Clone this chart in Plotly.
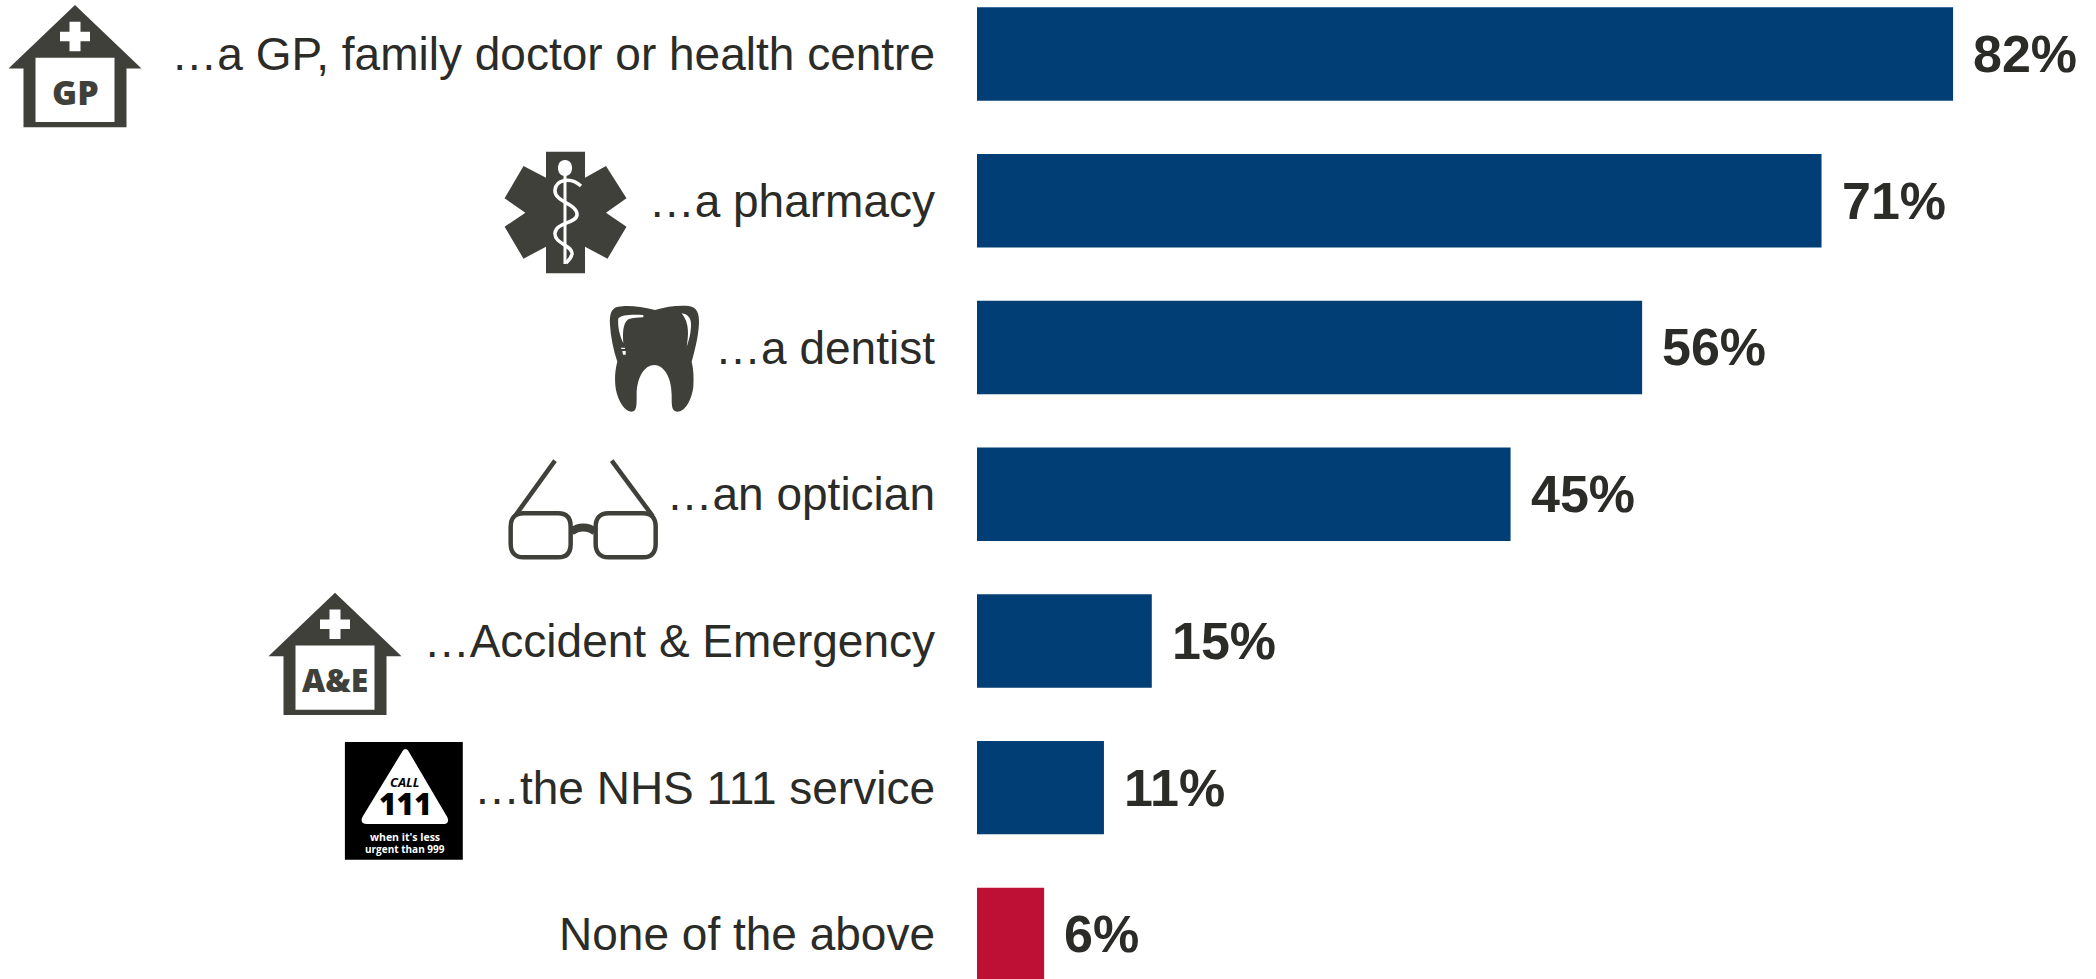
import re
import plotly.graph_objects as go

# Survey responses, top to bottom
categories = [
    "…a GP, family doctor or health centre",
    "…a pharmacy",
    "…a dentist",
    "…an optician",
    "…Accident &amp; Emergency",
    "…the NHS 111 service",
    "None of the above",
]
shares = [82, 71, 56, 45, 15, 11, 6]
bar_colors = ["#003E75"] * 6 + ["#BE0F34"]

WIDTH, HEIGHT = 2096, 979
SANS = "Liberation Sans"
BADGE = "Open Sans"
TEXT = "#2B2B27"
ICON = "#3F403A"
WHITE = "#FFFFFF"


def to_paper(path, ox, oy, sx=1.0, sy=1.0):
    """Place a path drawn in local units onto the page, numbers alternating x and y."""
    is_x = [True]

    def convert(match):
        v = float(match.group())
        if is_x[0]:
            out = (ox + v / sx) / WIDTH
        else:
            out = 1 - (oy + v / sy) / HEIGHT
        is_x[0] = not is_x[0]
        return f"{out:.5f}"

    return re.sub(r"-?\d+\.?\d*", convert, path)


shapes = []
annotations = []


def fill(path, ox, oy, sx=1.0, sy=1.0, color=ICON):
    shapes.append(dict(type="path", xref="paper", yref="paper", layer="above",
                       path=to_paper(path, ox, oy, sx, sy),
                       fillcolor=color, line=dict(width=0)))


def stroke(path, ox, oy, sx=1.0, sy=1.0, color=ICON, width=4.0):
    shapes.append(dict(type="path", xref="paper", yref="paper", layer="above",
                       path=to_paper(path, ox, oy, sx, sy),
                       line=dict(color=color, width=width)))


def label(text, x, y, size, color=ICON, style="normal", family=BADGE, weight=800):
    annotations.append(dict(text=text, xref="paper", yref="paper",
                            x=x / WIDTH, y=1 - y / HEIGHT, showarrow=False,
                            xanchor="center", yanchor="middle",
                            font=dict(family=family, size=size, color=color,
                                      weight=weight, style=style)))


def house(ax, ay, caption, size):
    fill("M 0 0 L 66.5 63.5 L 51.5 63.5 L 51.5 122.3 L -51.5 122.3 L -51.5 63.5 L -66.5 63.5 Z", ax, ay)
    fill("M -39.5 52.7 L 39.5 52.7 L 39.5 117 L -39.5 117 Z", ax, ay, color=WHITE)
    fill("M -5.5 16.7 L 5.5 16.7 L 5.5 26.7 L 15 26.7 L 15 36.3 L 5.5 36.3 L 5.5 46.3 "
         "L -5.5 46.3 L -5.5 36.3 L -15 36.3 L -15 26.7 L -5.5 26.7 Z", ax, ay, color=WHITE)
    label(caption, ax, ay + 87, size)


# Surgery and A&E buildings
house(75, 5, "GP", 34)
house(335, 592.7, "A&amp;E", 32)

# Star of life with rod and serpent
fill("M 546 151.7 L 585 151.7 L 585 177.7 L 606 166 L 626.5 198.3 L 606 212.7 L 626.5 226.7 "
     "L 607.5 258.7 L 585 246.7 L 585 273.3 L 546 273.3 L 546 246.7 L 523.5 258.7 L 504.6 226.7 "
     "L 525.4 212.7 L 504.6 198.3 L 523.5 166 L 546 177.7 Z", 0, 0)
stroke("M 565 170 L 565 264", 0, 0, color=WHITE, width=3)
fill("M 565 160 C 570 160 572 164 572 168 C 572 172 570 176 565 176 "
     "C 560 176 558 172 558 168 C 558 164 560 160 565 160 Z", 0, 0, color=WHITE)
stroke("M 581 186 C 570 176 556 180 555 190 C 554 202 578 204 577 215 "
       "C 576 224 556 222 555 233 C 554 244 573 245 572 254 C 571 259 568 261 566 263",
       0, 0, color=WHITE, width=3.5)

# Molar
fill("M 525 90 C 480 78 440 75 415 80 C 395 83 388 100 390 135 C 392 170 400 210 412 245 "
     "C 405 270 403 300 408 330 C 415 365 435 395 455 395 C 470 393 470 380 470 345 "
     "C 470 290 495 255 523 255 C 550 255 575 290 575 345 C 575 380 575 393 592 395 "
     "C 615 395 635 360 640 320 C 642 290 640 265 635 245 C 645 210 655 170 657 130 "
     "C 658 100 650 83 630 79 C 600 75 560 80 525 90 Z", 480, 280, 3, 3)
fill("M 490 105 C 450 103 425 105 415 115 C 412 140 420 170 430 190 C 428 160 428 130 445 118 "
     "C 460 113 475 113 490 112 Z", 480, 280, 3, 3, color=WHITE)
fill("M 605 100 C 625 103 635 115 633 140 C 632 165 625 185 620 200 C 625 170 630 130 605 100 Z",
     480, 280, 3, 3, color=WHITE)
fill("M 427 213 L 437 213 L 437 224 L 429 224 Z", 480, 280, 3, 3, color=WHITE)
fill("M 423 203 L 435 203 L 435 207 L 424 207 Z", 480, 280, 3, 3, color=WHITE)

# Spectacles
GLASS = "M {a} 740 C {a} 715 {b} 700 {c} 700 L {d} 700 C {e} 700 {f} 715 {f} 740 L {f} 792 " \
        "C {f} 817 {e} 832 {d} 832 L {c} 832 C {b} 832 {a} 817 {a} 792 Z"
stroke(GLASS.format(a=92, b=105, c=130, d=235, e=260, f=272), 480, 280, 3, 3, width=4.5)
stroke(GLASS.format(a=347, b=360, c=385, d=490, e=515, f=527), 480, 280, 3, 3, width=4.5)
stroke("M 225 542 L 105 708", 480, 280, 3, 3, width=4.5)
stroke("M 395 542 L 518 708", 480, 280, 3, 3, width=4.5)
stroke("M 274 755 C 295 738 325 738 345 755", 480, 280, 3, 3, width=8)

# NHS 111 badge
fill("M 344.9 742 L 462.8 742 L 462.8 859.7 L 344.9 859.7 Z", 0, 0, color="#000000")
fill("M 402 752 C 404 748 407 748 409 752 L 446 815 C 450 821 448 824 443 824 "
     "L 367 824 C 362 824 360 821 363 816 Z", 0, 0, color=WHITE)
label("CALL", 405, 781.5, 13, color="#000000", style="italic", weight=700)
label("111", 405, 803.5, 30, color="#000000")
label("when it's less", 405, 836.7, 10.5, color=WHITE, weight=700)
label("urgent than 999", 405, 848.5, 10, color=WHITE, weight=700)

# Value labels sit just past the end of each bar
for name, value in zip(categories, shares):
    annotations.append(dict(text=f"{value}%", x=value, y=name, xref="x", yref="y",
                            showarrow=False, xanchor="left", yanchor="middle", xshift=18,
                            font=dict(family=SANS, size=52, color=TEXT, weight=700)))

fig = go.Figure(go.Bar(x=shares, y=categories, orientation="h",
                       marker=dict(color=bar_colors, line=dict(width=0)),
                       hoverinfo="skip"))

fig.update_layout(
    width=WIDTH, height=HEIGHT, autosize=False,
    margin=dict(l=0, r=0, t=0, b=0, pad=0),
    paper_bgcolor=WHITE, plot_bgcolor=WHITE,
    showlegend=False, bargap=0.3635,
    font=dict(family=SANS, color=TEXT),
    shapes=shapes, annotations=annotations,
)
# The value axis starts a little above zero, so the bars begin at its left edge
fig.update_xaxes(domain=[977 / WIDTH, 1], range=[0.385, 93.95], showticklabels=False,
                 showgrid=False, zeroline=False, showline=False, ticks="")
fig.update_yaxes(range=[6.304, -0.368], type="category", categoryorder="array",
                 categoryarray=categories, showgrid=False, zeroline=False, showline=False,
                 ticks="", ticklabelstandoff=41, automargin=False,
                 tickfont=dict(family=SANS, size=46, color=TEXT))

fig.write_html("out.html", config=dict(displayModeBar=False))
